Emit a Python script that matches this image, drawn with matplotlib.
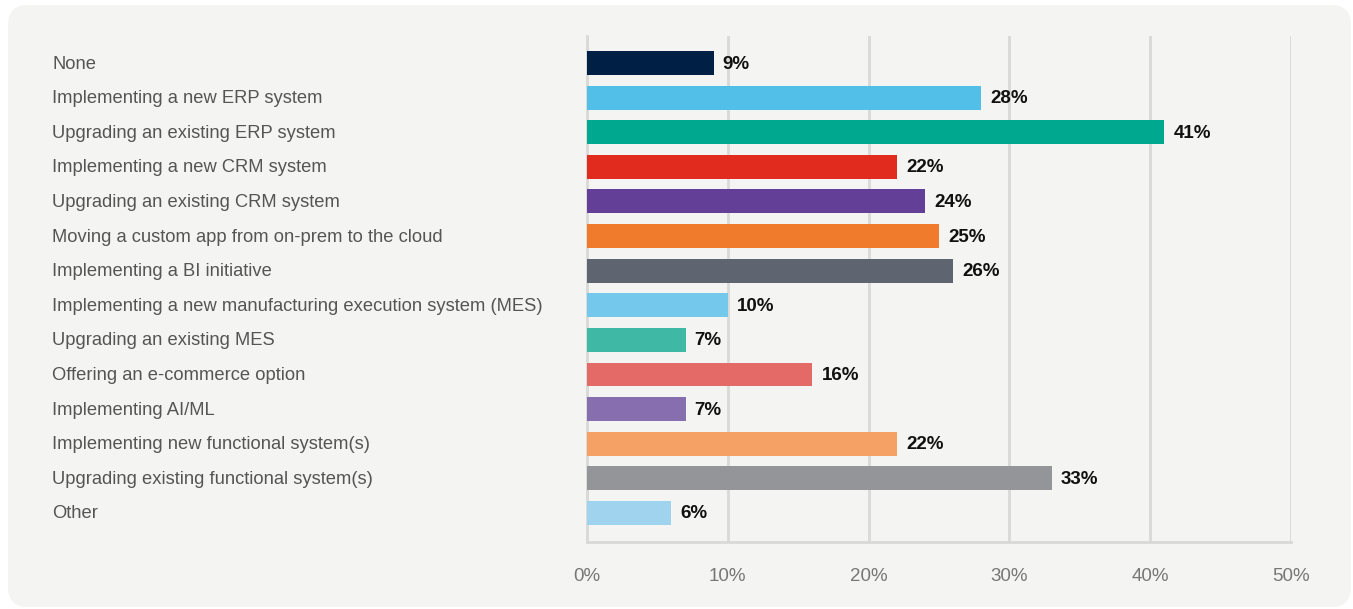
import matplotlib
matplotlib.use("Agg")
import matplotlib.pyplot as plt
from matplotlib.patches import FancyBboxPatch
from matplotlib.transforms import blended_transform_factory

plt.rcParams["font.family"] = ["Liberation Sans", "DejaVu Sans"]

categories = [
    "None",
    "Implementing a new ERP system",
    "Upgrading an existing ERP system",
    "Implementing a new CRM system",
    "Upgrading an existing CRM system",
    "Moving a custom app from on-prem to the cloud",
    "Implementing a BI initiative",
    "Implementing a new manufacturing execution system (MES)",
    "Upgrading an existing MES",
    "Offering an e-commerce option",
    "Implementing AI/ML",
    "Implementing new functional system(s)",
    "Upgrading existing functional system(s)",
    "Other",
]
values = [9, 28, 41, 22, 24, 25, 26, 10, 7, 16, 7, 22, 33, 6]
colors = [
    "#001f44", "#52bfe8", "#00a88f", "#e12b1f", "#643f97", "#f07b2c", "#5f6570",
    "#74c8ec", "#3fb8a5", "#e46a68", "#876faf", "#f5a064", "#939599", "#a0d4ee",
]
xticks = [0, 10, 20, 30, 40, 50]

W, H = 1353, 609
fig = plt.figure(figsize=(W / 100, H / 100), dpi=100)
fig.patch.set_facecolor("white")

# rounded grey panel, drawn in pixel coordinates on a background axes
bg = fig.add_axes([0, 0, 1, 1], zorder=0)
bg.set_xlim(0, W)
bg.set_ylim(H, 0)
bg.axis("off")
bg.add_patch(FancyBboxPatch((8, 5), W - 10, H - 7,
                            boxstyle="round,pad=0,rounding_size=20",
                            facecolor="#f4f4f2", edgecolor="none"))

ax = fig.add_axes([587 / W, 1 - 542 / H, (1291 - 587) / W, (542 - 36) / H], zorder=1)
ax.set_facecolor("none")

y = range(len(categories))
ax.barh(y, values, height=0.69, color=colors, zorder=3)
for i, v in enumerate(values):
    ax.text(v + 0.65, i + 0.03, f"{v}%", va="center", ha="left",
            fontsize=13.5, fontweight="bold", color="#111111", zorder=4)

ax.set_xlim(0, 50)
ax.set_ylim(13.84, -0.78)
ax.set_xticks(xticks)
ax.set_xticklabels([f"{t}%" for t in xticks], fontsize=13.5, color="#777777")
ax.tick_params(axis="x", length=0, pad=19)
ax.set_yticks([])
ax.grid(axis="x", color="#d9d9d7", linewidth=2, zorder=1)
for side in ["top", "right"]:
    ax.spines[side].set_visible(False)
for side in ["left", "bottom"]:
    ax.spines[side].set_color("#d9d9d7")
    ax.spines[side].set_linewidth(2)

# category names start near the left edge of the panel
name_tf = blended_transform_factory(fig.transFigure, ax.transData)
for i, name in enumerate(categories):
    ax.text(52 / W, i + 0.03, name, transform=name_tf, clip_on=False,
            fontsize=13.2, color="#555555", va="center", ha="left")

fig.savefig("out.png", dpi=100, facecolor=fig.get_facecolor())
